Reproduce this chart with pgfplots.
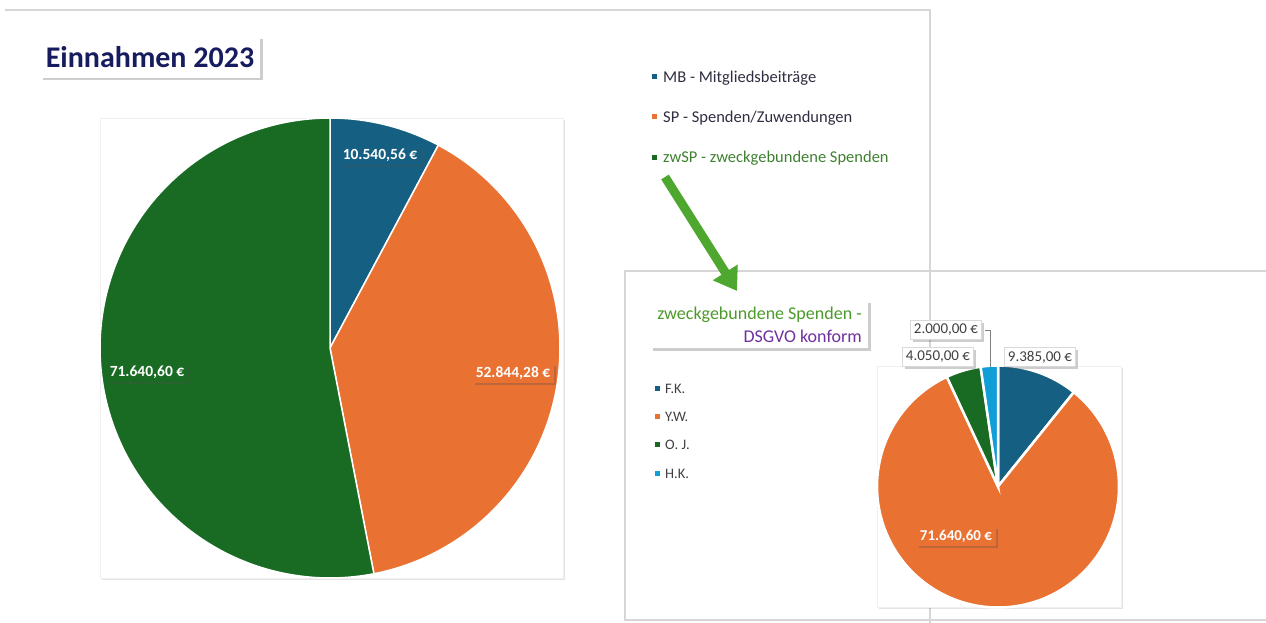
\documentclass[border=0pt]{standalone}
\usepackage{fontspec}
\setmainfont{Carlito}
\usepackage{pgfplots}
\pgfplotsset{compat=1.18}
\usetikzlibrary{shadows,arrows.meta}
\definecolor{cBlue}{HTML}{156082}
\definecolor{cOrange}{HTML}{E97132}
\definecolor{cGreen}{HTML}{196B24}
\definecolor{cLight}{HTML}{0F9ED5}
\definecolor{cNavy}{HTML}{161C5E}
\definecolor{cFrame}{HTML}{D6D6D6}
\definecolor{cTxt}{HTML}{404040}
\definecolor{cDark}{HTML}{2E2E40}
\definecolor{cLegG}{HTML}{3F8030}
\definecolor{cTitG}{HTML}{4C9A2A}
\definecolor{cPurple}{HTML}{7030A0}
\definecolor{cArrow}{HTML}{4EA72E}
% values in thousands of euro (pgfmath range)
\def\MB{10.54056}\def\SP{52.84428}\def\ZW{71.64060}
\def\FK{9.385}\def\YW{71.6406}\def\OJ{4.05}\def\HK{2.0}
\pgfmathsetmacro\TA{\MB+\SP+\ZW}
\pgfmathsetmacro\aA{90-360*(\MB/\TA)}
\pgfmathsetmacro\aB{\aA-360*(\SP/\TA)}
\pgfmathsetmacro\TB{\FK+\YW+\OJ+\HK}
\pgfmathsetmacro\bA{90-360*(\FK/\TB)}
\pgfmathsetmacro\bB{\bA-360*(\YW/\TB)}
\pgfmathsetmacro\bC{\bB-360*(\OJ/\TB)}
\tikzset{shd/.style={drop shadow={opacity=0.28,shadow xshift=2.5pt,shadow yshift=-2.5pt,fill=black!70}},
         shs/.style={drop shadow={opacity=0.18,shadow xshift=2pt,shadow yshift=-2pt,fill=black!60}}}
\begin{document}
\begin{tikzpicture}[x=1pt,y=1pt]
\path[use as bounding box] (0,0) rectangle (1266,-623);
% frames
\draw[cFrame, line width=1.2pt] (5,-10) -- (930,-10) -- (930,-623);
\draw[cFrame, line width=1.2pt] (1266,-271) -- (625,-271) -- (625,-620) -- (1266,-620);
% title 1
\node[fill=white, shd, minimum width=220pt, minimum height=41pt, inner sep=0pt, text=cNavy,
      font=\fontsize{30}{32}\selectfont\bfseries] at (150,-57.5) {Einnahmen 2023};
% legend 1
\fill[cBlue] (651.5,-74.5) rectangle +(5,-5);
\node[anchor=base west, inner sep=0, text=cDark, font=\fontsize{16.5}{18}\selectfont] at (663,-82.5) {MB - Mitgliedsbeiträge};
\fill[cOrange] (651.5,-114.5) rectangle +(5,-5);
\node[anchor=base west, inner sep=0, text=cDark, font=\fontsize{16.5}{18}\selectfont] at (663,-122.5) {SP - Spenden/Zuwendungen};
\fill[cGreen] (651.5,-154.5) rectangle +(5,-5);
\node[anchor=base west, inner sep=0, text=cLegG, font=\fontsize{16.5}{18}\selectfont] at (663,-162.5) {zwSP - zweckgebundene Spenden};
% arrow
\draw[cArrow, line width=9pt, -{Triangle[length=22pt, width=28pt]}] (665,-177) -- (737,-291);
% pie 1 plot area
\fill[white, shs] (100,-118) rectangle (563,-578);
\draw[black!6] (100,-118) rectangle (563,-578);
\begin{axis}[at={(330pt,-348pt)}, anchor=center, scale only axis, width=460pt, height=460pt,
  xmin=-1, xmax=1, ymin=-1, ymax=1, hide axis, clip=false, samples=150]
\addplot[fill=cBlue, draw=white, line width=1.5pt, domain=\aA:90] ({cos(x)},{sin(x)}) -- (0,0) -- cycle;
\addplot[fill=cOrange, draw=white, line width=1.5pt, domain=\aB:\aA] ({cos(x)},{sin(x)}) -- (0,0) -- cycle;
\addplot[fill=cGreen, draw=white, line width=1.5pt, domain=-270:\aB] ({cos(x)},{sin(x)}) -- (0,0) -- cycle;
\end{axis}
\node[fill=cBlue, text=white, shd, font=\fontsize{15.5}{17}\selectfont\bfseries, inner sep=3.5pt] at (380,-155) {10.540,56 €};
\node[fill=cOrange, text=white, shd, font=\fontsize{15.5}{17}\selectfont\bfseries, inner sep=3.5pt] at (513,-373) {52.844,28 €};
\node[fill=cGreen, text=white, shd, font=\fontsize{15.5}{17}\selectfont\bfseries, inner sep=3.5pt] at (147,-372) {71.640,60 €};
% title 2
\node[fill=white, shd, minimum width=218pt, minimum height=48pt, inner sep=0pt] at (759,-324) {};
\node[anchor=base east, inner sep=0, text=cTitG, font=\fontsize{18}{20}\selectfont] at (862,-319) {zweckgebundene Spenden -};
\node[anchor=base east, inner sep=0, text=cPurple, font=\fontsize{18}{20}\selectfont] at (862,-342) {DSGVO konform};
% legend 2
\fill[cBlue] (655,-385.5) rectangle +(5,-5);
\node[anchor=base west, inner sep=0, text=cTxt, font=\fontsize{14.5}{16}\selectfont] at (665,-393) {F.K.};
\fill[cOrange] (655,-413.5) rectangle +(5,-5);
\node[anchor=base west, inner sep=0, text=cTxt, font=\fontsize{14.5}{16}\selectfont] at (665,-421) {Y.W.};
\fill[cGreen] (655,-441.5) rectangle +(5,-5);
\node[anchor=base west, inner sep=0, text=cTxt, font=\fontsize{14.5}{16}\selectfont] at (665,-449) {O. J.};
\fill[cLight] (655,-470.5) rectangle +(5,-5);
\node[anchor=base west, inner sep=0, text=cTxt, font=\fontsize{14.5}{16}\selectfont] at (665,-478) {H.K.};
% pie 2 plot area
\fill[white, shs] (877,-366) rectangle (1121,-607);
\draw[black!6] (877,-366) rectangle (1121,-607);
\begin{axis}[at={(998pt,-486.5pt)}, anchor=center, scale only axis, width=242pt, height=242pt,
  xmin=-1, xmax=1, ymin=-1, ymax=1, hide axis, clip=false, samples=150]
\addplot[fill=cBlue, draw=white, line width=2.5pt, domain=\bA:90] ({cos(x)},{sin(x)}) -- (0,0) -- cycle;
\addplot[fill=cOrange, draw=white, line width=2.5pt, domain=\bB:\bA] ({cos(x)},{sin(x)}) -- (0,0) -- cycle;
\addplot[fill=cGreen, draw=white, line width=2.5pt, domain=\bC:\bB] ({cos(x)},{sin(x)}) -- (0,0) -- cycle;
\addplot[fill=cLight, draw=white, line width=2.5pt, domain=-270:\bC] ({cos(x)},{sin(x)}) -- (0,0) -- cycle;
\end{axis}
\draw[gray, line width=0.8pt] (985,-330) -- (990,-330) -- (990,-367);
\node[fill=white, draw=black!15, shd, text=cTxt, font=\fontsize{15}{17}\selectfont, inner sep=3.5pt] at (1040,-357) {9.385,00 €};
\node[fill=white, draw=black!15, shd, text=cTxt, font=\fontsize{15}{17}\selectfont, inner sep=3.5pt] at (938,-357) {4.050,00 €};
\node[fill=white, draw=black!15, shd, text=cTxt, font=\fontsize{15}{17}\selectfont, inner sep=3.5pt] at (946,-330) {2.000,00 €};
\node[fill=cOrange, text=white, shd, font=\fontsize{15}{17}\selectfont\bfseries, inner sep=3.5pt] at (956,-536) {71.640,60 €};
\end{tikzpicture}
\end{document}
